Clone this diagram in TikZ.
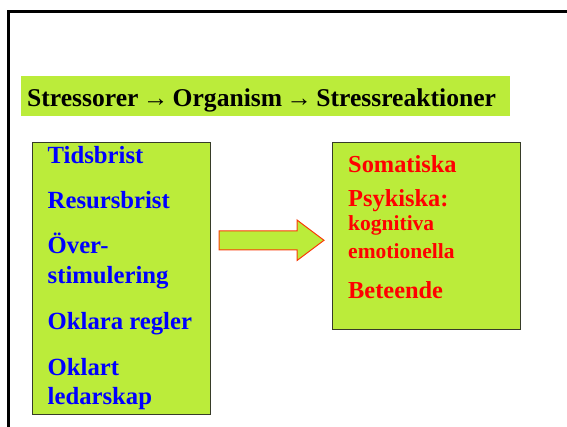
\documentclass[tikz,border=0pt]{standalone}
\usepackage{fontspec}
\setmainfont{Liberation Serif}
\definecolor{slidegreen}{RGB}{187,236,58}
\definecolor{boxedge}{RGB}{55,60,40}
\definecolor{arrowedge}{RGB}{250,60,10}
\tikzset{
        box/.style={draw=boxedge, fill=slidegreen, line width=1pt, anchor=north west, inner sep=0pt},
        cause/.style={anchor=base west, inner sep=0pt, text=blue, font=\bfseries\fontsize{24.7}{24.7}\selectfont},
        effect/.style={anchor=base west, inner sep=0pt, text=red, font=\bfseries\fontsize{24.4}{24.4}\selectfont},
        subeffect/.style={effect, font=\bfseries\fontsize{21.5}{21.5}\selectfont}
}
\begin{document}
\begin{tikzpicture}[x=1pt, y=-1pt]
        \useasboundingbox (0,0) rectangle (567,427);
        \draw [line width=2.6pt] (8.7,430) -- (8.7,11.7) -- (570,11.7);
        \fill [slidegreen] (21,76) rectangle (510,116);
        \node [anchor=base west, inner sep=0pt, font=\bfseries\fontsize{25.6}{25.6}\selectfont] (title) at (27,107) {Stressorer\,→\,Organism\,→\,Stressreaktioner};
        \node [box, minimum width=178pt, minimum height=272pt] (causes) at (32,142) {};
        \node [box, minimum width=188pt, minimum height=187pt] (reactions) at (332,142) {};
        \draw [fill=slidegreen, draw=arrowedge, line width=1pt] (219,231) -- (297,231) -- (297,220) -- (324,240.3) -- (297,260.5) -- (297,250) -- (219,250) -- cycle;
        \node [cause] (c1) at (47.5,164) {Tidsbrist};
        \node [cause] (c2) at (47.5,209) {Resursbrist};
        \node [cause] (c3) at (47.5,254) {Över-};
        \node [cause] (c4) at (47.5,284) {stimulering};
        \node [cause] (c5) at (47.5,329) {Oklara regler};
        \node [cause] (c6) at (47.5,375) {Oklart};
        \node [cause] (c7) at (47.5,404) {ledarskap};
        \node [effect] (e1) at (348,173) {Somatiska};
        \node [effect] (e2) at (348,207) {Psykiska:};
        \node [subeffect] (e3) at (348,231) {kognitiva};
        \node [subeffect] (e4) at (348,259) {emotionella};
        \node [effect] (e5) at (348,299) {Beteende};
\end{tikzpicture}
\end{document}
